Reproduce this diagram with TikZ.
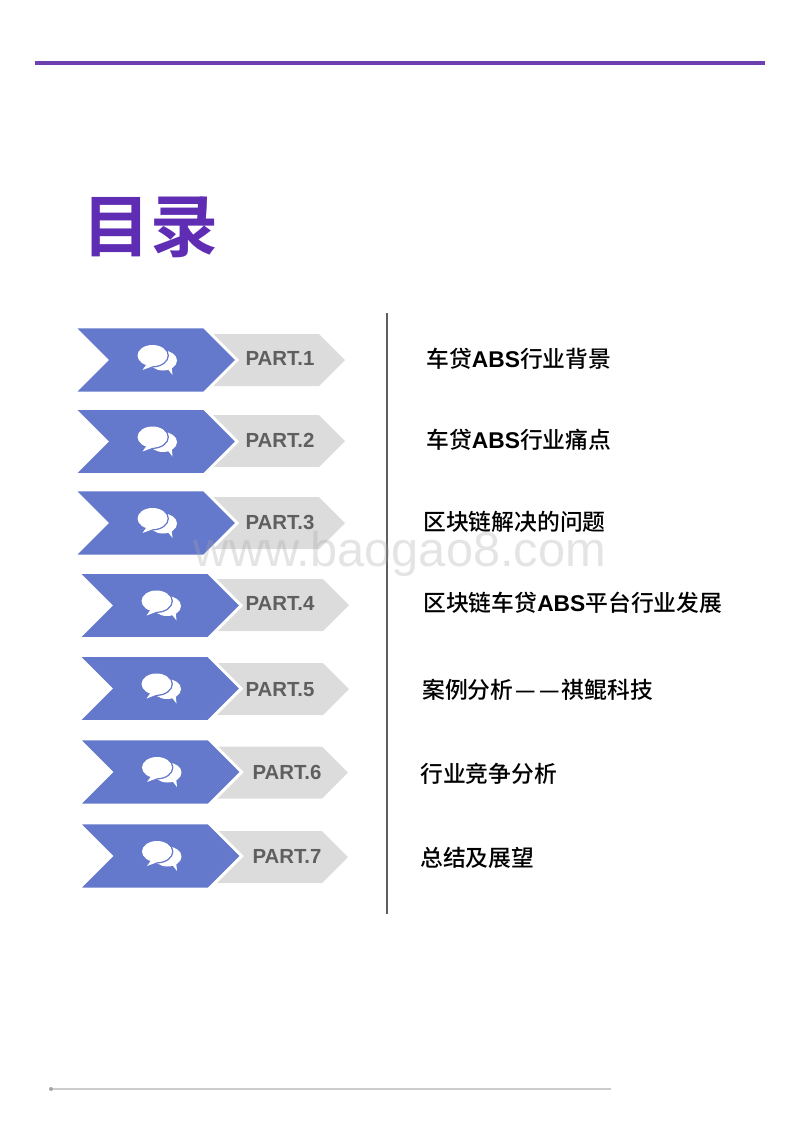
\documentclass[tikz,border=0pt]{standalone}
\usepackage{fontspec}
\usetikzlibrary{shapes.symbols}
\setmainfont{Liberation Sans}
\newfontfamily\latinbold{Liberation Sans Bold}
\newfontfamily\cjk[UprightFont=* Medium]{Noto Sans CJK SC}
\newfontfamily\cjkhead[UprightFont=* Bold]{Noto Sans CJK SC}
\newcommand{\absname}{{\latinbold ABS}}
\definecolor{headpurple}{HTML}{5F2DB4}
\definecolor{rulepurple}{HTML}{6F3FAF}
\definecolor{chevblue}{HTML}{6478CC}
\definecolor{tabgray}{HTML}{DCDCDC}
\definecolor{partgray}{HTML}{5F5F5F}
\tikzset{
    bubbles/.pic={
        \fill[white] (7.5,0.5) ellipse [x radius=14, y radius=10];
        \fill[white] (10,6) -- (17,15) -- (16,5) -- cycle;
        \draw[chevblue, line width=1.1pt] (-3,-4.5) ellipse [x radius=15.7, y radius=11.2];
        \fill[white] (-3,-4.5) ellipse [x radius=15, y radius=10.5];
        \fill[white] (-8,3) -- (-13,10) -- (-1,5.5) -- cycle;
    }
}
\begin{document}
\begin{tikzpicture}[x=0.75pt, y=-0.75pt,
    chevron/.style={signal, signal from=west, signal to=east, signal pointer angle=90, fill=chevblue, draw=white, line width=2.2pt, inner sep=0pt, outer sep=0pt, minimum width=122.5pt, minimum height=49.5pt},
    tab/.style={signal, signal to=east, signal pointer angle=90, fill=tabgray, inner sep=0pt, outer sep=0pt, minimum width=105pt, minimum height=39pt},
    part/.style={font=\bfseries\fontsize{15.3pt}{15.3pt}\selectfont, text=partgray, inner sep=0pt},
    entry/.style={anchor=west, font=\cjk\fontsize{17.1pt}{17.1pt}\selectfont, inner sep=0pt}]

    \useasboundingbox (0,0) rectangle (800,1132);

    \draw[rulepurple, line width=2.3pt] (35,63) -- (765,63);
    \node[text=headpurple, inner sep=0pt, font=\cjkhead\fontsize{51pt}{51pt}\selectfont] (title) at (150.5,227) {目录};

    \node[tab] (tab1) at (262,360) {};
    \node[chevron] (chev1) at (155.5,360) {};
    \node[part] (part1) at (280,358) {PART.1};
    \pic at (chev1) {bubbles};
    \node[tab] (tab2) at (262,441) {};
    \node[chevron] (chev2) at (155.5,441.5) {};
    \node[part] (part2) at (280,440) {PART.2};
    \pic at (chev2) {bubbles};
    \node[tab] (tab3) at (262,523) {};
    \node[chevron] (chev3) at (155.5,523) {};
    \node[part] (part3) at (280,522) {PART.3};
    \pic at (chev3) {bubbles};
    \node[tab] (tab4) at (266,605) {};
    \node[chevron] (chev4) at (159.5,605.5) {};
    \node[part] (part4) at (280,603) {PART.4};
    \pic at (chev4) {bubbles};
    \node[tab] (tab5) at (266,689) {};
    \node[chevron] (chev5) at (159.5,688.5) {};
    \node[part] (part5) at (280,690) {PART.5};
    \pic at (chev5) {bubbles};
    \node[tab] (tab6) at (265,772.5) {};
    \node[chevron] (chev6) at (160,772) {};
    \node[part] (part6) at (287,772) {PART.6};
    \pic at (chev6) {bubbles};
    \node[tab] (tab7) at (265,857) {};
    \node[chevron] (chev7) at (160,856) {};
    \node[part] (part7) at (287,856) {PART.7};
    \pic at (chev7) {bubbles};

    \draw[partgray, line width=1.2pt] (387,313) -- (387,914);

    \node[entry] (entry1) at (426,359) {车贷\absname 行业背景};
    \node[entry] (entry2) at (426,440) {车贷\absname 行业痛点};
    \node[entry] (entry3) at (423,522) {区块链解决的问题};
    \node[entry] (entry4) at (423,603) {区块链车贷\absname 平台行业发展};
    \node[entry] (entry5) at (422,690) {案例分析\kern1.5pt—\kern3pt—\kern1pt 祺鲲科技};
    \node[entry] (entry6) at (420,774) {行业竞争分析};
    \node[entry] (entry7) at (420,858) {总结及展望};

    \node[text=black!35, opacity=0.3, inner sep=0pt, font=\fontsize{36.6pt}{36.6pt}\selectfont] (mark) at (400,554) {www.baogao8.com};

    \draw[black!20, line width=0.9pt] (51,1089) -- (611,1089);
    \fill[black!35] (51,1089) circle (2);
\end{tikzpicture}
\end{document}
